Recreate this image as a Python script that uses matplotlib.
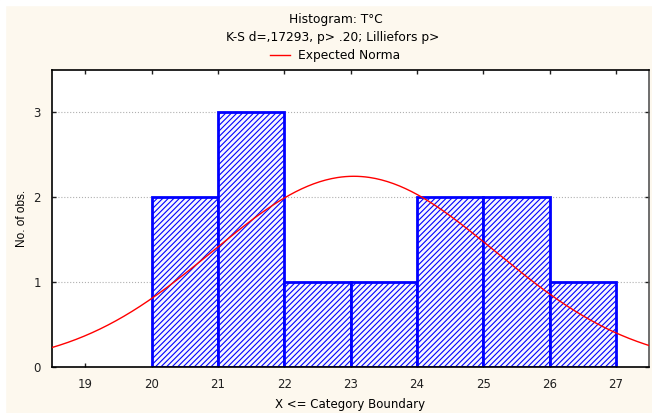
import numpy as np
import matplotlib
matplotlib.use("Agg")
import matplotlib.pyplot as plt
from matplotlib.patches import Rectangle

# histogram data (category boundaries and counts)
bin_left = [20, 21, 22, 23, 24, 25, 26]
counts = [2, 3, 1, 1, 2, 2, 1]
x_ticks = [19, 20, 21, 22, 23, 24, 25, 26, 27]
y_ticks = [0, 1, 2, 3]

# fitted normal
mean_t = 23.05
sd_t = 2.13
n_obs = 12

plt.rcParams['font.family'] = ['DejaVu Sans']
plt.rcParams['hatch.color'] = '#6a6aff'
plt.rcParams['hatch.linewidth'] = 0.8

fig = plt.figure(figsize=(6.52, 4.13), dpi=100)
fig.patch.set_facecolor('#fdf8ee')
# white strip left/top like the screenshot
fig.patches.append(Rectangle((0, 0), 5/652, 1, transform=fig.transFigure, color='white', zorder=0))
fig.patches.append(Rectangle((0, 1-5/413), 1, 5/413, transform=fig.transFigure, color='white', zorder=0))

ax = fig.add_axes([52/652, 46/413, 597/652, 297/413])
ax.set_facecolor('white')

ax.bar(bin_left, counts, width=1, align='edge', facecolor='#f6f6ff',
       edgecolor='#0000ff', linewidth=2, hatch='//////', zorder=2)

xs = np.linspace(18.5, 27.5, 300)
ys = n_obs * np.exp(-0.5*((xs-mean_t)/sd_t)**2) / (sd_t*np.sqrt(2*np.pi))
ax.plot(xs, ys, color='red', linewidth=1, zorder=3)

ax.set_xlim(18.5, 27.5)
ax.set_ylim(0, 3.5)
ax.set_xticks(x_ticks)
ax.set_yticks(y_ticks)
ax.yaxis.grid(True, color='#b0b0b0', linestyle=':', linewidth=0.8, zorder=0)
ax.set_axisbelow(True)
ax.tick_params(direction='in', length=3, width=1, top=True, right=True,
               labelsize=8.5, colors='#202020', pad=8)
for s in ax.spines.values():
    s.set_linewidth(1.2)
ax.spines['right'].set_color('#555555')

ax.set_xlabel('X <= Category Boundary', fontsize=8.5, labelpad=5)
ax.set_ylabel('No. of obs.', fontsize=8.5, labelpad=4, family='Liberation Sans')

fig.text(336/652, 1-20/413, 'Histogram: T°C', ha='center', va='center', fontsize=8.8)
fig.text(333/652, 1-38/413, 'K-S d=,17293, p> .20; Lilliefors p>', ha='center', va='center', fontsize=8.8)
fig.lines.append(plt.Line2D([270/652, 290/652], [1-55/413, 1-55/413], transform=fig.transFigure,
                            color='red', linewidth=1))
fig.text(298/652, 1-55/413, 'Expected Norma', ha='left', va='center', fontsize=8.8)

fig.savefig('out.png', dpi=100, facecolor=fig.get_facecolor())
